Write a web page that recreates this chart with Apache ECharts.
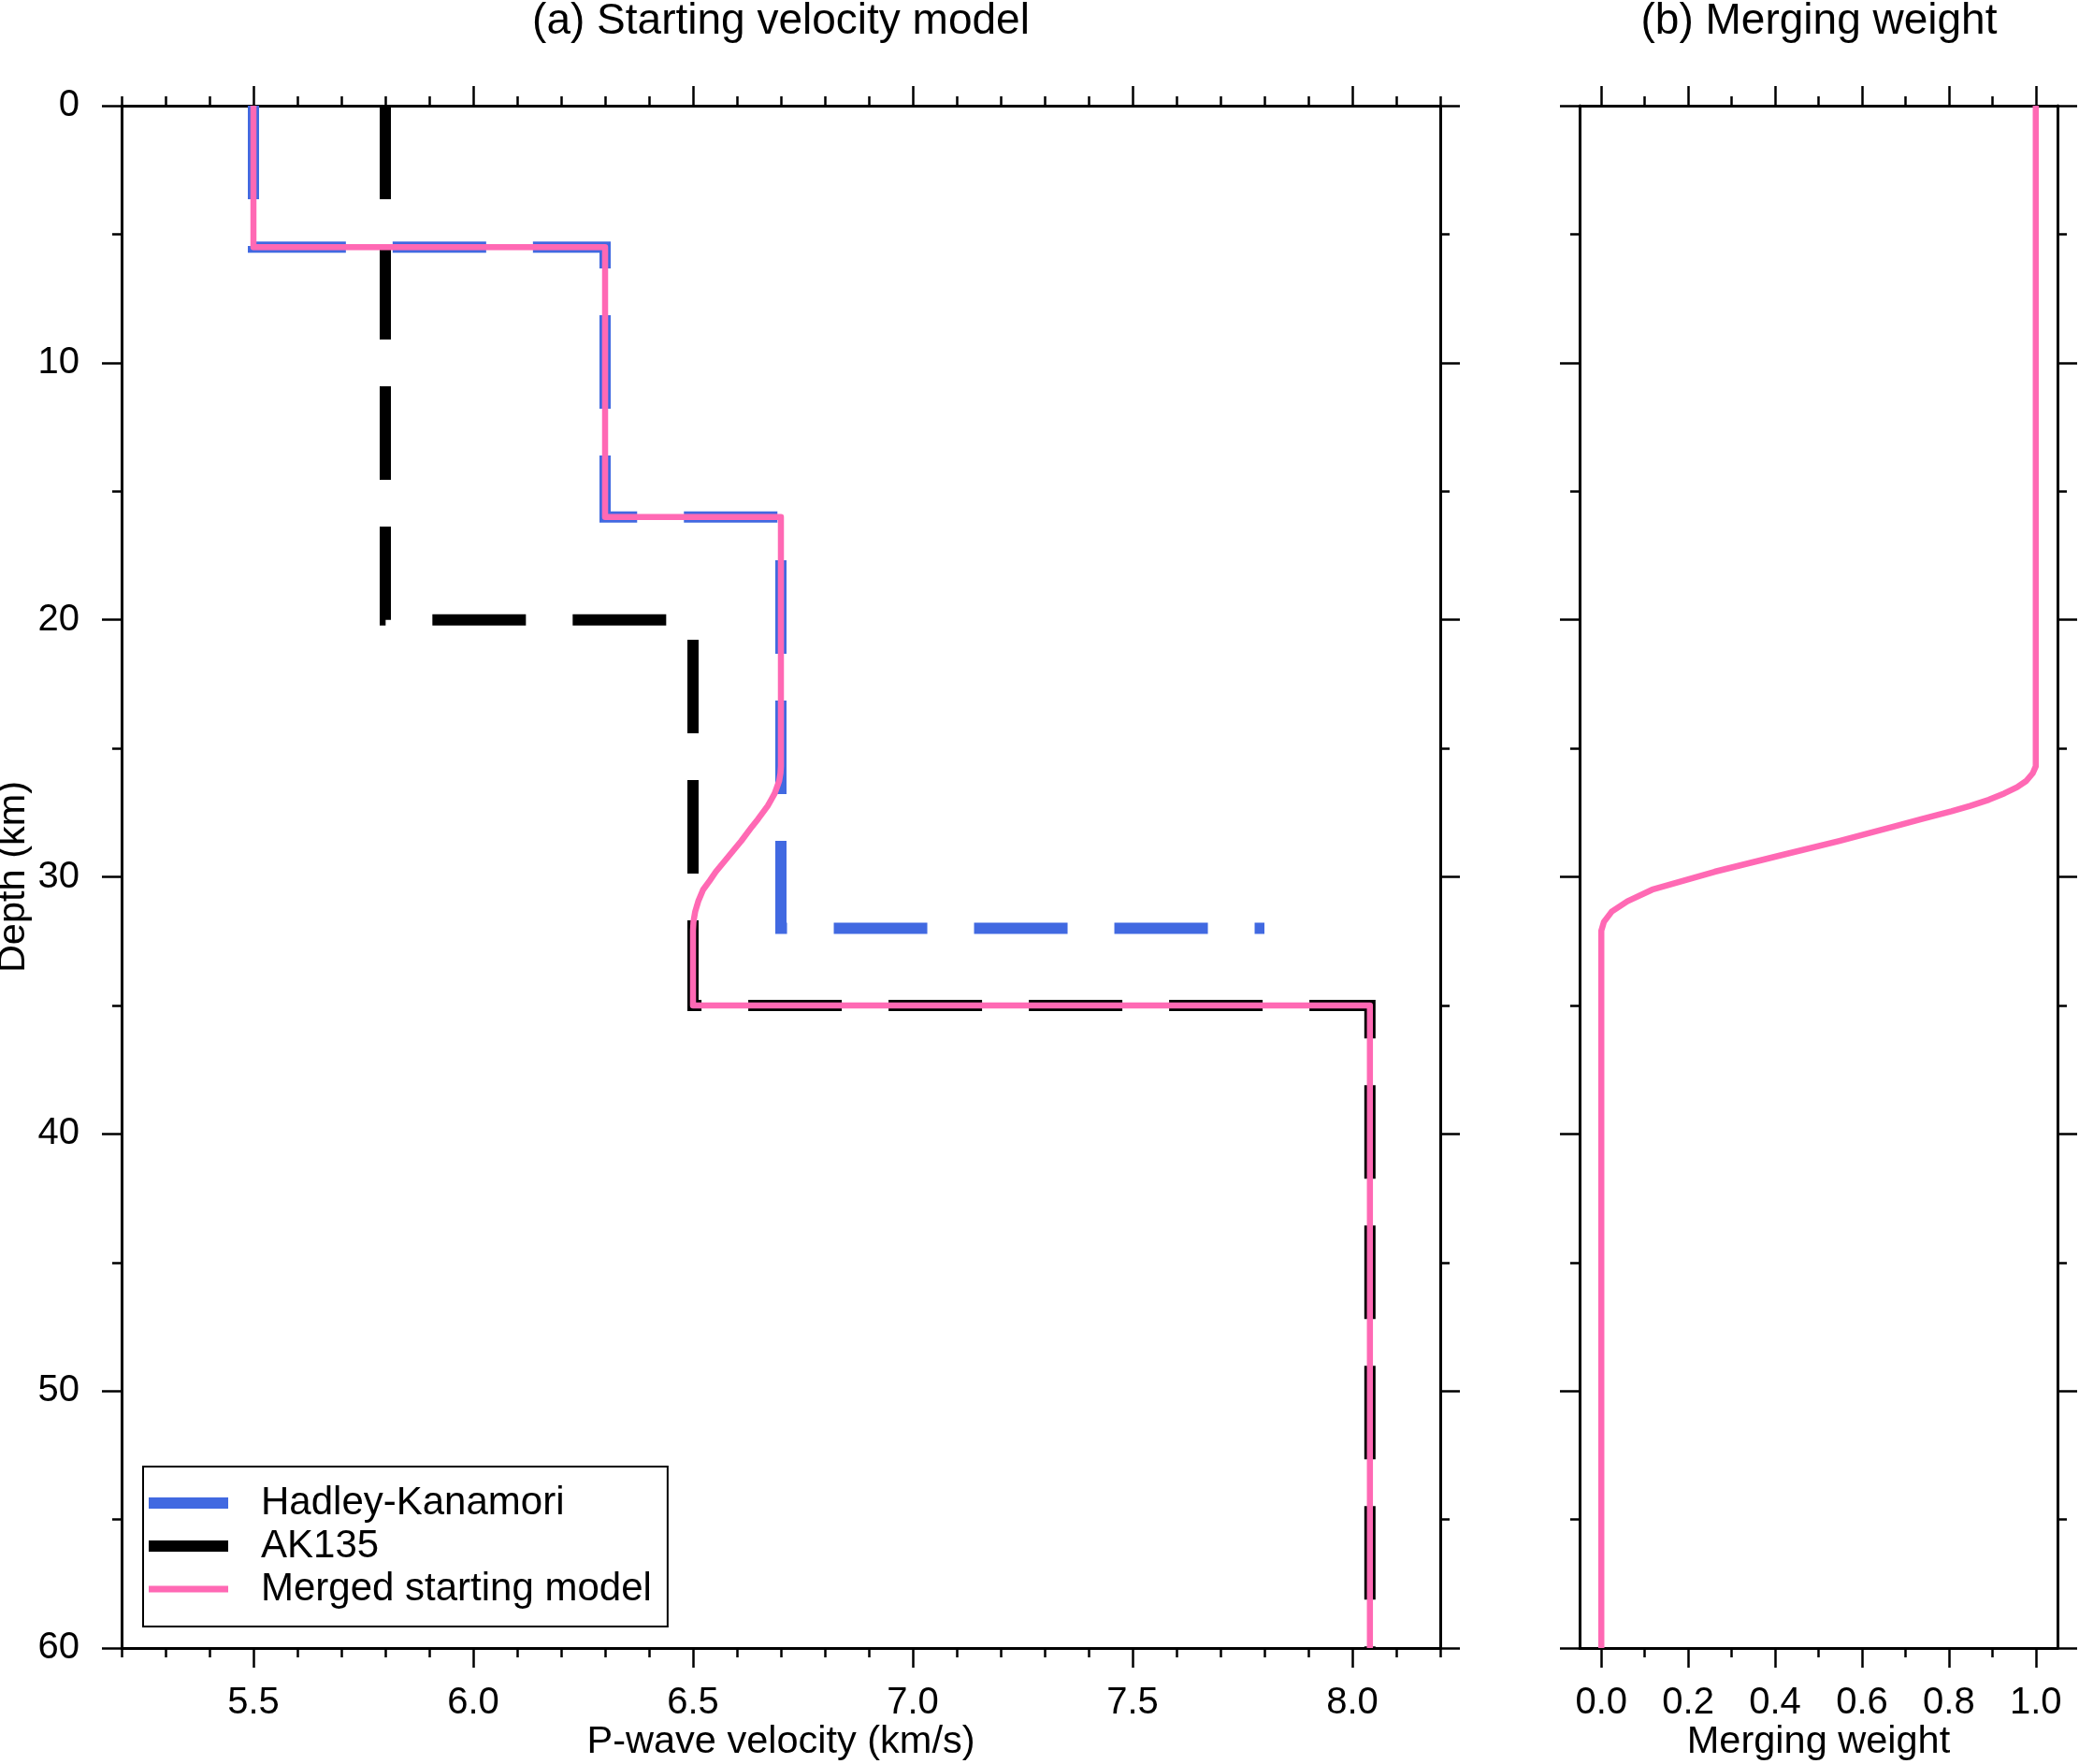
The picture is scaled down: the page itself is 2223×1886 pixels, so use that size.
<!DOCTYPE html>
<html>
<head>
<meta charset="utf-8">
<title>Starting velocity model</title>
<script src="https://cdn.jsdelivr.net/npm/echarts@6/dist/echarts.min.js"></script>
<style>
  html, body { margin: 0; padding: 0; background: #fff; }
  #main { width: 2223px; height: 1886px; }
</style>
</head>
<body>
<div id="main"></div>
<script type="text/javascript">
// 数据：速度 (km/s) 与深度 (km)
var hkVel = [5.5, 5.5, 6.3, 6.3, 6.7, 6.7, 7.8];
var hkDepth = [0, 5.5, 5.5, 16, 16, 32, 32];

var akVel = [5.8, 5.8, 6.5, 6.5, 8.04, 8.04];
var akDepth = [0, 20, 20, 35, 35, 60];

var mergedVel = [5.5, 5.5, 6.3, 6.3, 6.7, 6.7, 6.699, 6.696, 6.691, 6.686, 6.678, 6.67, 6.661, 6.648, 6.634, 6.61, 6.581, 6.552, 6.538, 6.523, 6.512, 6.505, 6.501, 6.5, 6.5, 8.04, 8.04];
var mergedDepth = [0, 5.5, 5.5, 16, 16, 25.7, 25.97, 26.27, 26.51, 26.75, 27.0, 27.24, 27.45, 27.75, 28.05, 28.6, 29.2, 29.8, 30.15, 30.5, 30.95, 31.35, 31.75, 32.1, 35, 35, 60];

var weightVal = [1, 1, 0.993, 0.978, 0.957, 0.928, 0.892, 0.849, 0.806, 0.738, 0.672, 0.548, 0.404, 0.261, 0.189, 0.117, 0.06, 0.024, 0.006, 0, 0];
var weightDepth = [0, 25.7, 25.97, 26.27, 26.51, 26.75, 27.0, 27.24, 27.45, 27.75, 28.05, 28.6, 29.2, 29.8, 30.15, 30.5, 30.95, 31.35, 31.75, 32.1, 60];

var velTicks = [5.5, 6.0, 6.5, 7.0, 7.5, 8.0];
var weightTicks = [0, 0.2, 0.4, 0.6, 0.8, 1.0];
var weightMinorTicks = [0.1, 0.3, 0.5, 0.7, 0.9];

var FONT = 'Liberation Sans, Arial, Helvetica, sans-serif';
var BLUE = '#4169E1';
var PINK = '#FF69B4';

function pairs(xs, ys) {
    var out = [];
    for (var i = 0; i < xs.length; i++) out.push([xs[i], ys[i]]);
    return out;
}

function xAx(grid, pos, min, max, opts) {
    var ax = {
        type: 'value', gridIndex: grid, position: pos, min: min, max: max,
        splitLine: { show: false },
        axisLine: { show: false, onZero: false, lineStyle: { color: '#000', width: 3 } },
        axisTick: { show: true, inside: false, length: 10, lineStyle: { color: '#000', width: 2.5 } },
        axisLabel: { show: false }
    };
    return Object.assign(ax, opts || {});
}

function yAx(grid, pos, opts) {
    var ax = {
        type: 'value', gridIndex: grid, position: pos, inverse: true,
        min: 0, max: 60, interval: 10,
        splitLine: { show: false },
        axisLine: { show: true, onZero: false, lineStyle: { color: '#000', width: 3 } },
        axisTick: { show: true, inside: false, length: 21, lineStyle: { color: '#000', width: 2.5 } },
        minorTick: { show: true, splitNumber: 2, length: 10, lineStyle: { color: '#000', width: 2.5 } },
        axisLabel: { show: false }
    };
    return Object.assign(ax, opts || {});
}

var labelStyle = { show: true, fontSize: 40, color: '#000', fontFamily: FONT };

var myChart = echarts.init(document.getElementById('main'), null, { renderer: 'canvas' });

var option = {
    animation: false,
    backgroundColor: '#fff',
    textStyle: { fontFamily: FONT, color: '#000' },
    title: [
        { text: '(a) Starting velocity model', left: 835, top: 0, padding: 0, textAlign: 'center',
          textStyle: { fontSize: 46, fontWeight: 'normal', color: '#000', fontFamily: FONT } },
        { text: '(b) Merging weight', left: 1945, top: 0, padding: 0, textAlign: 'center',
          textStyle: { fontSize: 46, fontWeight: 'normal', color: '#000', fontFamily: FONT } }
    ],
    grid: [
        { left: 130, top: 113, width: 1410, height: 1649, containLabel: false, outerBoundsMode: 'none' },
        { left: 1689, top: 113, width: 511, height: 1649, containLabel: false, outerBoundsMode: 'none' }
    ],
    legend: {
        orient: 'vertical', left: 153, top: 1568,
        padding: [16, 17, 17, 0], itemGap: 0,
        itemWidth: 85, itemHeight: 14,
        backgroundColor: '#fff', borderColor: '#000', borderWidth: 2,
        selectedMode: false,
        itemStyle: { opacity: 0 },
        textStyle: { fontSize: 42, lineHeight: 46, color: '#000', fontFamily: FONT, padding: [0, 0, 0, 30] },
        data: [
            { name: 'Hadley-Kanamori', itemStyle: { opacity: 0 }, lineStyle: { color: BLUE, width: 12, type: 'solid' } },
            { name: 'AK135', itemStyle: { opacity: 0 }, lineStyle: { color: '#000', width: 12, type: 'solid' } },
            { name: 'Merged starting model', itemStyle: { opacity: 0 }, lineStyle: { color: PINK, width: 7, type: 'solid' } }
        ]
    },
    xAxis: [
        // (a) 底部
        xAx(0, 'bottom', 5.2, 8.2, { interval: 0.1,
            axisLine: { show: true, onZero: false, lineStyle: { color: '#000', width: 3 } } }),
        xAx(0, 'bottom', 5.2, 8.2, {
            axisTick: { show: true, inside: false, length: 21, customValues: velTicks, lineStyle: { color: '#000', width: 2.5 } },
            axisLabel: Object.assign({ customValues: velTicks, margin: 39,
                formatter: function (v) { return v.toFixed(1); } }, labelStyle),
            name: 'P-wave velocity (km/s)', nameLocation: 'middle', nameGap: 80, nameMoveOverlap: false,
            nameTextStyle: { fontSize: 41.5, color: '#000', fontFamily: FONT }
        }),
        // (a) 顶部
        xAx(0, 'top', 5.2, 8.2, { interval: 0.1,
            axisLine: { show: true, onZero: false, lineStyle: { color: '#000', width: 3 } } }),
        xAx(0, 'top', 5.2, 8.2, {
            axisTick: { show: true, inside: false, length: 21, customValues: velTicks, lineStyle: { color: '#000', width: 2.5 } }
        }),
        // (b) 底部
        xAx(1, 'bottom', -0.05, 1.05, {
            axisLine: { show: true, onZero: false, lineStyle: { color: '#000', width: 3 } },
            axisTick: { show: true, inside: false, length: 10, customValues: weightMinorTicks, lineStyle: { color: '#000', width: 2.5 } }
        }),
        xAx(1, 'bottom', -0.05, 1.05, {
            axisTick: { show: true, inside: false, length: 21, customValues: weightTicks, lineStyle: { color: '#000', width: 2.5 } },
            axisLabel: Object.assign({ customValues: weightTicks, margin: 39,
                formatter: function (v) { return v.toFixed(1); } }, labelStyle),
            name: 'Merging weight', nameLocation: 'middle', nameGap: 80, nameMoveOverlap: false,
            nameTextStyle: { fontSize: 41.5, color: '#000', fontFamily: FONT }
        }),
        // (b) 顶部
        xAx(1, 'top', -0.05, 1.05, {
            axisLine: { show: true, onZero: false, lineStyle: { color: '#000', width: 3 } },
            axisTick: { show: true, inside: false, length: 10, customValues: weightMinorTicks, lineStyle: { color: '#000', width: 2.5 } }
        }),
        xAx(1, 'top', -0.05, 1.05, {
            axisTick: { show: true, inside: false, length: 21, customValues: weightTicks, lineStyle: { color: '#000', width: 2.5 } }
        })
    ],
    yAxis: [
        yAx(0, 'left', {
            axisLabel: Object.assign({ margin: 45 }, labelStyle),
            name: 'Depth (km)', nameLocation: 'middle', nameGap: 94, nameMoveOverlap: false,
            nameTextStyle: { fontSize: 41.5, color: '#000', fontFamily: FONT }
        }),
        yAx(0, 'right'),
        yAx(1, 'left'),
        yAx(1, 'right')
    ],
    series: [
        {
            name: 'Hadley-Kanamori', type: 'line', xAxisIndex: 0, yAxisIndex: 0,
            symbol: 'none', showSymbol: false,
            lineStyle: { color: BLUE, width: 12, type: [100, 50], cap: 'butt', join: 'miter' },
            data: pairs(hkVel, hkDepth)
        },
        {
            name: 'AK135', type: 'line', xAxisIndex: 0, yAxisIndex: 0,
            symbol: 'none', showSymbol: false,
            lineStyle: { color: '#000', width: 12, type: [100, 50], cap: 'butt', join: 'miter' },
            data: pairs(akVel, akDepth)
        },
        {
            name: 'Merged starting model', type: 'line', xAxisIndex: 0, yAxisIndex: 0,
            symbol: 'none', showSymbol: false,
            lineStyle: { color: PINK, width: 6.5, type: 'solid', join: 'round' },
            data: pairs(mergedVel, mergedDepth)
        },
        {
            name: 'Merging weight', type: 'line', xAxisIndex: 4, yAxisIndex: 2,
            symbol: 'none', showSymbol: false,
            lineStyle: { color: PINK, width: 6.5, type: 'solid', join: 'round' },
            data: pairs(weightVal, weightDepth)
        }
    ]
};

myChart.setOption(option);
</script>
</body>
</html>
